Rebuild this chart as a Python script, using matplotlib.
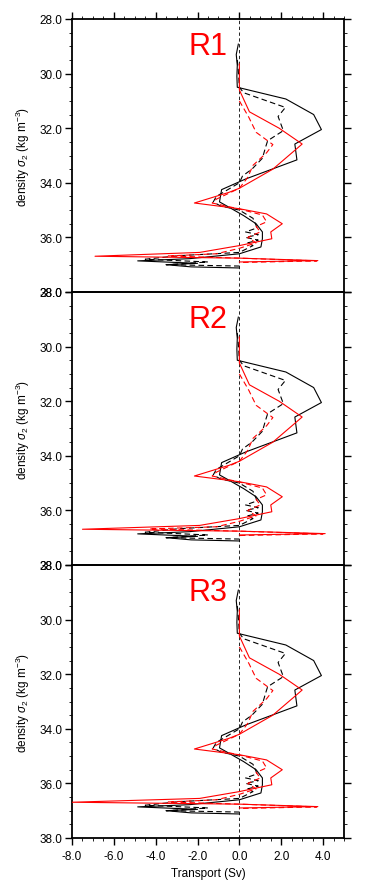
import matplotlib
matplotlib.use("Agg")
import matplotlib.pyplot as plt
from matplotlib.ticker import MultipleLocator, FixedLocator

plt.rcParams['font.family'] = ['Liberation Sans', 'DejaVu Sans']
plt.rcParams['mathtext.fontset'] = 'custom'
plt.rcParams['mathtext.rm'] = 'Liberation Sans'
plt.rcParams['mathtext.it'] = 'Liberation Sans:italic'

panel_names = ["R1", "R2", "R3"]

# ---- R1 ----
r1_bs_y = [28.92, 29.3, 29.7, 30.1, 30.5, 30.93, 31.5, 32.05, 32.58, 33.16, 33.86, 34.25, 34.7,
           34.85, 35.2, 35.5, 35.8, 36.05, 36.35, 36.6, 36.78, 36.86, 36.95, 37.0, 37.08, 37.12]
r1_bs_x = [-0.05, -0.15, -0.1, -0.12, -0.1, 2.22, 3.55, 3.92, 2.65, 2.75, 0.3, -0.85, -0.95,
           -0.6, 0.2, 0.8, 1.1, 1.1, 1.03, 0.0, -2.4, -4.86, -2.0, -3.5, -2.3, 0.0]
r1_bd_y = [29.5, 29.9, 30.5, 30.7, 31.24, 31.57, 32.09, 32.46, 32.7, 33.1, 33.5, 33.75, 34.0, 34.5,
           34.7, 34.85, 35.0, 35.3, 35.65, 35.8, 35.9, 36.0, 36.1, 36.2, 36.3, 36.55, 36.67, 36.8,
           36.9, 37.0, 37.05]
r1_bd_x = [-0.1, -0.05, 0.0, 0.2, 2.2, 1.85, 2.1, 1.35, 1.25, 1.1, 0.6, 0.15, 0.0, -1.1,
           -1.25, -0.9, 0.0, 0.65, 0.85, 0.3, 0.9, 0.3, 0.9, 0.4, 0.65, 0.0, -2.9, -4.5,
           -1.5, -3.5, 0.0]
r1_rs_y = [29.65, 30.0, 30.6, 31.4, 32.0, 32.58, 33.5, 34.2, 34.35, 34.74, 34.95, 35.14, 35.5,
           35.8, 36.05, 36.3, 36.55, 36.69, 36.76, 36.85, 36.9]
r1_rs_x = [0.0, 0.0, 0.0, 0.48, 1.9, 3.0, 1.6, 0.0, -0.5, -2.15, 0.0, 1.3, 2.05,
           1.5, 1.55, 0.0, -1.9, -6.9, 0.0, 3.75, 0.0]
r1_rd_y = [31.0, 31.6, 32.15, 32.6, 32.9, 33.36, 33.8, 34.2, 34.6, 34.74, 34.96, 35.18, 35.43,
           35.6, 35.8, 36.0, 36.2, 36.4, 36.6, 36.68, 36.76, 36.86, 36.92]
r1_rd_x = [0.0, 0.45, 0.8, 1.6, 1.3, 0.65, 0.4, 0.0, -1.1, -1.3, 0.0, 1.1, 1.3,
           0.8, 1.0, 0.4, 0.8, 0.0, -1.1, -3.4, 0.0, 3.7, 0.0]

# ---- R2 ----
r2_bs_y = r1_bs_y
r2_bs_x = [-0.05, -0.15, -0.1, -0.12, -0.1, 2.22, 3.55, 3.92, 2.65, 2.75, 0.3, -0.85, -0.95,
           -0.6, 0.2, 0.8, 1.1, 1.1, 1.03, 0.0, -2.4, -4.86, -2.0, -3.5, -2.3, 0.0]
r2_bd_y = r1_bd_y
r2_bd_x = r1_bd_x
r2_rs_y = r1_rs_y
r2_rs_x = [0.0, 0.0, 0.0, 0.48, 1.9, 3.0, 1.6, 0.0, -0.5, -2.15, 0.0, 1.3, 2.05,
           1.5, 1.55, 0.0, -1.9, -7.5, 0.0, 4.1, 0.0]
r2_rd_y = r1_rd_y
r2_rd_x = [0.0, 0.45, 0.8, 1.6, 1.3, 0.65, 0.4, 0.0, -1.1, -1.3, 0.0, 1.1, 1.3,
           0.8, 1.0, 0.4, 0.8, 0.0, -1.1, -4.3, 0.0, 4.0, 0.0]

# ---- R3 ----
r3_bs_y, r3_bs_x = r1_bs_y, r1_bs_x
r3_bd_y, r3_bd_x = r1_bd_y, r1_bd_x
r3_rs_y = r1_rs_y
r3_rs_x = [0.0, 0.0, 0.0, 0.48, 1.9, 3.0, 1.6, 0.0, -0.5, -2.15, 0.0, 1.3, 2.05,
           1.5, 1.55, 0.0, -1.9, -8.0, 0.0, 3.75, 0.0]
r3_rd_y, r3_rd_x = r1_rd_y, r1_rd_x

panels = [
    (r1_bs_x, r1_bs_y, r1_bd_x, r1_bd_y, r1_rs_x, r1_rs_y, r1_rd_x, r1_rd_y),
    (r2_bs_x, r2_bs_y, r2_bd_x, r2_bd_y, r2_rs_x, r2_rs_y, r2_rd_x, r2_rd_y),
    (r3_bs_x, r3_bs_y, r3_bd_x, r3_bd_y, r3_rs_x, r3_rs_y, r3_rd_x, r3_rd_y),
]

xticks = [-8, -6, -4, -2, 0, 2, 4]
yticks = [28, 30, 32, 34, 36, 38]

W, H = 365, 895
fig = plt.figure(figsize=(W / 100, H / 100), dpi=100)

left_px, right_px = 72, 344
tops = [20, 293, 566]
ph = 273
fs = 8.5

for i, (name, d) in enumerate(zip(panel_names, panels)):
    top = tops[i]
    ax = fig.add_axes([left_px / W, 1 - (top + ph) / H, (right_px - left_px) / W, ph / H])
    bsx, bsy, bdx, bdy, rsx, rsy, rdx, rdy = d
    ax.axvline(0, color='black', lw=0.6, ls=(0, (4, 3)), zorder=1)
    ax.plot(bsx, bsy, color='black', lw=0.8, zorder=3)
    ax.plot(bdx, bdy, color='black', lw=0.8, ls=(0, (5, 3)), zorder=3)
    ax.plot(rsx, rsy, color='red', lw=0.8, zorder=4)
    ax.plot(rdx, rdy, color='red', lw=0.8, ls=(0, (5, 3)), zorder=4)
    ax.set_xlim(-8, 5)
    ax.set_ylim(38, 28)
    for s in ax.spines.values():
        s.set_linewidth(1.3)
    ax.yaxis.set_major_locator(FixedLocator(yticks))
    ax.yaxis.set_minor_locator(MultipleLocator(0.5))
    ax.set_yticklabels(["%.1f" % v for v in yticks])
    ax.xaxis.set_major_locator(FixedLocator(xticks))
    ax.xaxis.set_minor_locator(MultipleLocator(0.5))
    ax.tick_params(axis='y', which='both', direction='out', left=True, right=True,
                   labelsize=fs, pad=2)
    ax.tick_params(which='major', length=5, width=1.0)
    ax.tick_params(which='minor', length=2.5, width=0.6)
    if i == 0:
        ax.tick_params(axis='x', which='both', direction='out', top=True, bottom=False,
                       labelbottom=False, labeltop=False)
    elif i == 2:
        ax.tick_params(axis='x', which='both', direction='out', top=False, bottom=True,
                       labelbottom=True, labelsize=fs, pad=4)
        ax.set_xticklabels(["%.1f" % v for v in xticks])
        ax.set_xlabel("Transport (Sv)", fontsize=fs, labelpad=3)
    else:
        ax.tick_params(axis='x', which='both', bottom=False, top=False,
                       labelbottom=False, labeltop=False)
    ax.set_ylabel(r"density $\sigma_2$ (kg m$^{-3}$)", fontsize=fs, labelpad=5)
    ax.text(-1.5, 29.0, name, color='red', fontsize=22, ha='center', va='center', zorder=5)
    ax.patch.set_alpha(0)

fig.savefig("out.png", dpi=100)
